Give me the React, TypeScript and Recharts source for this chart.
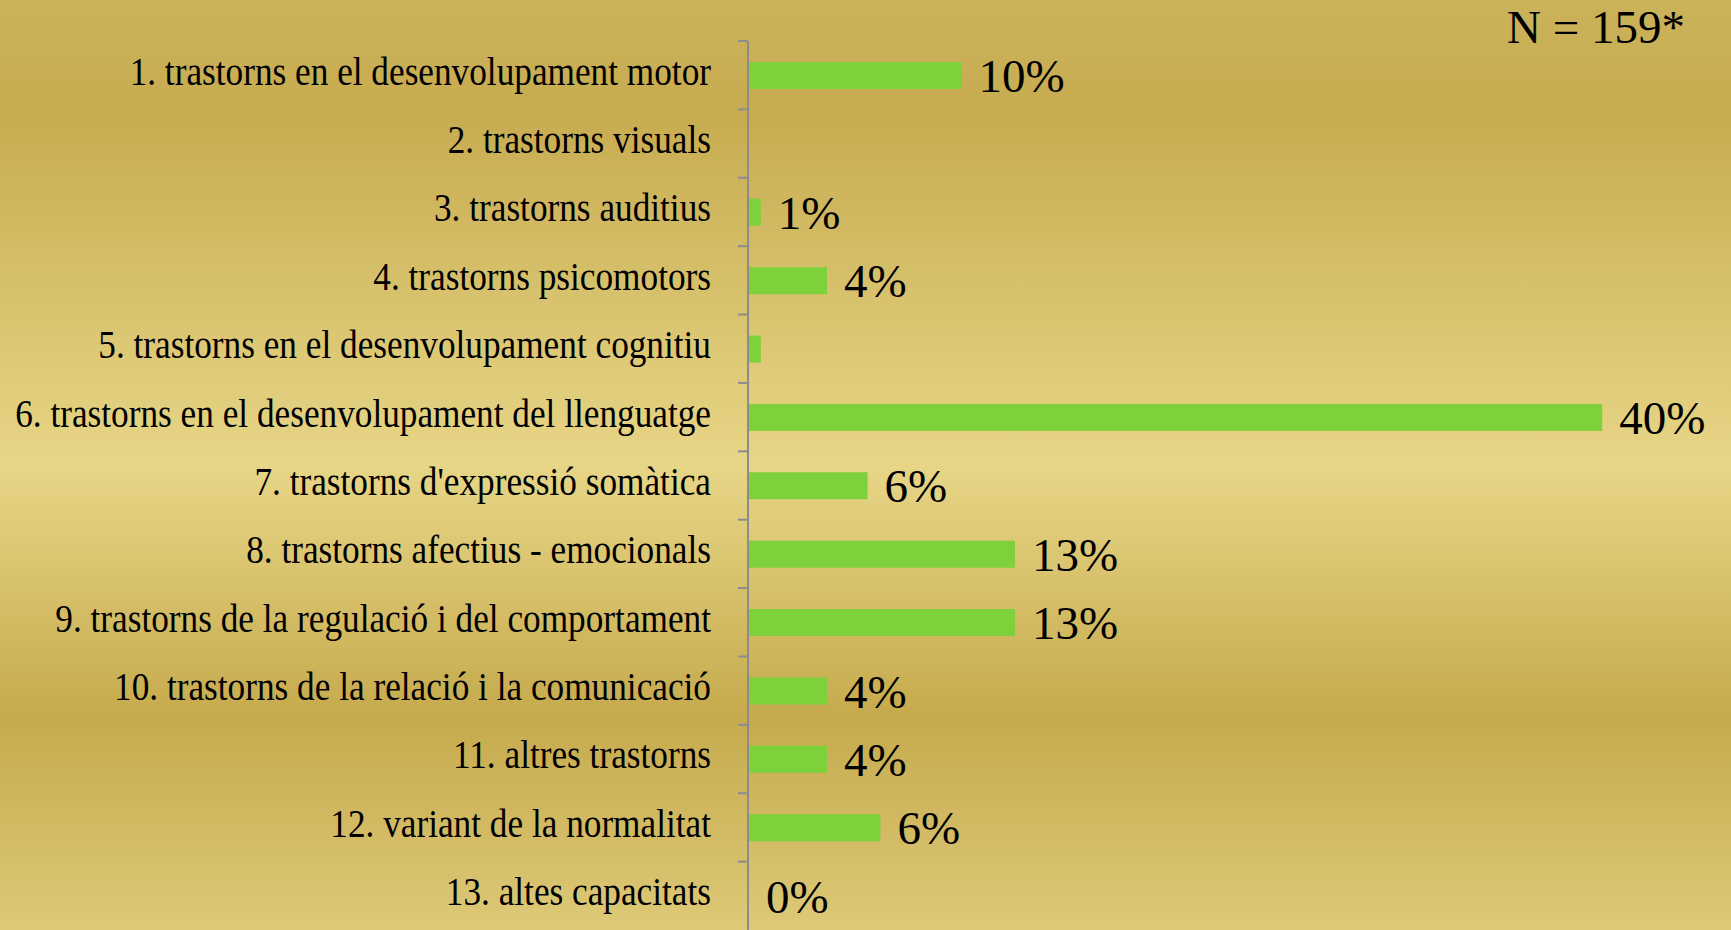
// Horizontal bar chart: trastorns diagnosticats (% sobre N = 159)
import { Bar, BarChart, XAxis, YAxis, LabelList } from "recharts";

const categories = [
  "1. trastorns en el desenvolupament motor",
  "2. trastorns visuals",
  "3. trastorns auditius",
  "4. trastorns psicomotors",
  "5. trastorns en el desenvolupament cognitiu",
  "6. trastorns en el desenvolupament del llenguatge",
  "7. trastorns d'expressió somàtica",
  "8. trastorns afectius - emocionals",
  "9.  trastorns de la regulació i del comportament",
  "10. trastorns de la relació i la comunicació",
  "11. altres trastorns",
  "12. variant de la normalitat",
  "13. altes capacitats",
];

const percents = [10, 0, 0.6, 3.7, 0.6, 40, 5.6, 12.5, 12.5, 3.7, 3.7, 6.2, 0];

const valueLabels = ["10%", "", "1%", "4%", "", "40%", "6%", "13%", "13%", "4%", "4%", "6%", "0%"];

const data = categories.map((name, i) => ({ name, value: percents[i], label: valueLabels[i] }));

const W = 1731;
const H = 930;
const FONT = "'Liberation Serif', 'Times New Roman', serif";
const AXIS_GRAY = "#8c8c8c";
const TICK_MARGIN = 37;

function CategoryTick(props: any) {
  const { x, y, payload } = props;
  const half = payload?.offset ?? (H - 41) / 13 / 2;
  const axisX = x + TICK_MARGIN;
  return (
    <g>
      <line x1={axisX - 10} x2={axisX} y1={y - half} y2={y - half} stroke={AXIS_GRAY} strokeWidth={2} />
      <text
        transform={`translate(${x},${y}) scale(0.86,1)`}
        textAnchor="end"
        dy="0.23em"
        fontSize={41}
        fontFamily={FONT}
        fill="#000"
      >
        {payload.value}
      </text>
    </g>
  );
}

// zero bars that still carry a label need a (hidden) sliver so the label is placed
const minSize = (_v: any, i: number) => (percents[i] === 0 && valueLabels[i] ? 1 : 0);

export default function App() {
  return (
    <div
      style={{
        position: "absolute",
        left: 0,
        top: 0,
        width: W,
        height: H,
        overflow: "hidden",
        background:
          "linear-gradient(to bottom, #cbb35b 0%, #c7ab50 12%, #e7d687 50%, #c6aa4d 77%, #ddc978 100%)",
      }}
    >
      <BarChart
        width={W}
        height={H}
        data={data}
        layout="vertical"
        margin={{ top: 41, right: 22, bottom: 0, left: 0 }}
        barCategoryGap="30%"
      >
        <XAxis type="number" domain={[0, 45]} hide />
        <Bar dataKey="value" fill="#7dd13b" barSize={27} minPointSize={minSize} isAnimationActive={false}>
          <LabelList dataKey="label" position="right" offset={17} fontSize={47} fontFamily={FONT} fill="#000" />
        </Bar>
        <YAxis
          type="category"
          dataKey="name"
          width={748}
          tickSize={0}
          tickMargin={TICK_MARGIN}
          tickLine={false}
          axisLine={{ stroke: AXIS_GRAY, strokeWidth: 2 }}
          tick={<CategoryTick />}
          interval={0}
        />
      </BarChart>
      <div
        style={{
          position: "absolute",
          right: 46,
          top: 4,
          lineHeight: 1,
          fontFamily: FONT,
          fontSize: 47,
          color: "#000",
          whiteSpace: "nowrap",
        }}
      >
        N = 159*
      </div>
    </div>
  );
}
